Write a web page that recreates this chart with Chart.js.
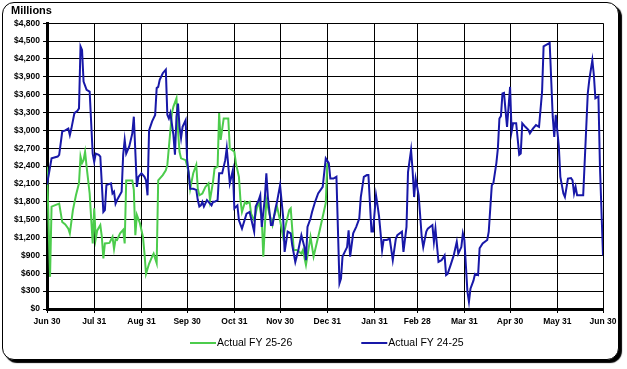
<!DOCTYPE html>
<html>
<head>
<meta charset="utf-8">
<script src="https://cdn.jsdelivr.net/npm/chart.js@4.4.0/dist/chart.umd.min.js"></script>
<style>
html, body { margin: 0; padding: 0; background: #fff; }
#frame { position: absolute; left: 2px; top: 2px; width: 617px; height: 358px; box-sizing: border-box;
  border: 1px solid #000; border-radius: 12px; box-shadow: 3px 3px 1px #000; background: #fff; }
#chart { position: absolute; left: 0; top: 0; }
</style>
</head>
<body>
<div id="frame"></div>
<canvas id="chart" width="627" height="369"></canvas>
<script>
// x axis: days since Jun 30, ticks at month ends
var tickDays = [0, 31, 62, 92, 123, 153, 184, 215, 243, 274, 304, 335, 365];
var tickLabels = ['Jun 30', 'Jul 31', 'Aug 31', 'Sep 30', 'Oct 31', 'Nov 30', 'Dec 31',
                  'Jan 31', 'Feb 28', 'Mar 31', 'Apr 30', 'May 31', 'Jun 30'];

var seriesNames = ['Actual FY 25-26', 'Actual FY 24-25'];

// Actual FY 24-25 ($ millions)
var fy2425Days = [
  0, 3, 7, 8, 10, 12, 14, 15, 16, 18, 20, 21, 22, 23, 24, 26, 28, 30,
  31, 32, 34, 35, 37, 38, 39, 42, 43, 44, 45, 46, 49, 50, 51, 52, 54, 56, 57, 59, 60,
  62, 64, 65, 66, 67, 69, 71, 72, 73, 74, 76, 78, 79, 80, 81, 83, 84, 85, 86, 87, 88, 89, 91,
  92, 93, 94, 96, 98, 99, 100, 101, 102, 103, 105, 106, 108, 109, 110, 112, 113, 115, 117, 118, 120, 122,
  123, 125, 126, 128, 131, 133, 134, 136, 137, 139, 140, 141, 143, 144, 145, 147, 148, 150, 151,
  153, 155, 156, 158, 160, 161, 163, 165, 167, 169, 170, 171, 173, 174, 176, 178, 181, 183,
  185, 186, 188, 190, 192, 193, 194, 197, 198, 199, 201, 203, 205, 206, 208, 210, 211, 213, 214,
  216, 217, 218, 220, 221, 223, 225, 227, 229, 230, 233, 234, 236, 237, 239, 240, 241, 242,
  243, 244, 246, 247, 249, 250, 253, 254, 255, 257, 259, 261, 262, 263, 265, 267, 269, 270, 272, 273,
  274, 276, 277, 278, 280, 281, 283, 284, 286, 289, 290, 292, 293, 295, 296, 297, 298, 299, 300, 301, 302,
  304, 305, 306, 308, 310, 311, 312, 314, 316, 317, 319, 321, 323, 325, 326, 328, 330, 332, 333, 334,
  336, 337, 339, 340, 342, 344, 345, 346, 347, 348, 352, 355, 356, 358, 359, 360, 362, 363, 365
];
var fy2425Values = [
  2090, 2530, 2560, 2590, 2980, 3000, 3030, 2920, 3030, 3290, 3330, 3370, 4410, 4350, 3820, 3680, 3650, 2610,
  2470, 2610, 2590, 2560, 1630, 1660, 2080, 2110, 1940, 1970, 1770, 1830, 1970, 2590, 2840, 2610, 2730, 2950, 3230, 2050, 2220,
  2280, 2220, 2160, 1910, 3000, 3150, 3260, 3710, 3730, 3850, 3960, 4020, 3260, 3200, 3290, 2920, 2590, 3230, 3450, 3060, 2870, 3060, 3170,
  2500, 2280, 2020, 2020, 2000, 1830, 1720, 1740, 1800, 1720, 1830, 1800, 1740, 1800, 1800, 1830, 2280, 2280, 2500, 2700, 2110, 2330,
  1690, 1740, 1490, 1350, 1600, 1630, 1520, 1300, 1720, 1830, 1910, 1380, 1860, 2280, 1880, 1410, 1410, 1690, 1800,
  2080, 1550, 960, 1300, 1270, 1070, 790, 990, 1240, 1040, 820, 1380, 1520, 1630, 1800, 1940, 2050, 2530,
  2450, 2190, 2190, 2220, 430, 510, 880, 1040, 1320, 880, 1270, 1380, 1520, 1880, 2220, 2250, 2250, 1300, 1300,
  1910, 1740, 1550, 990, 1160, 1160, 1180, 820, 1180, 1240, 1300, 960, 1380, 2300, 2670, 2330, 1880, 2190,
  2050, 1910, 1210, 1040, 1300, 1350, 1410, 1130, 1350, 790, 820, 900, 570, 590, 740, 900, 1130, 930, 1040, 1270,
  1160, 290, 120, 340, 480, 590, 570, 1020, 1100, 1160, 1300, 2080, 2110, 2450, 2700, 3200, 3240, 3620, 3630, 3340, 3060,
  3730, 2980, 3120, 3120, 2590, 2610, 3120, 3060, 3010, 2950, 3030, 3090, 3060, 3650, 4410, 4440, 4470, 3230, 2890, 3260,
  2730, 2220, 1940, 1880, 2190, 2200, 2160, 1940, 2050, 1910, 1910, 3620, 3850, 4180, 3930, 3540, 3570, 2390, 900
];

// Actual FY 25-26 ($ millions)
var fy2526Days = [
  0, 2, 3, 5, 8, 10, 12, 14, 15, 17, 19, 21, 22, 23, 24, 25, 26, 28, 30,
  31, 32, 33, 35, 36, 37, 38, 41, 43, 44, 45, 46, 48, 50, 51, 52, 56, 57, 58, 59, 61,
  63, 64, 65, 67, 69, 70, 72, 73, 76, 78, 79, 81, 82, 83, 85, 86, 87, 88, 91,
  93, 94, 96, 98, 99, 100, 102, 104, 106, 107, 109, 110, 112, 113, 114, 116, 119, 120,
  123, 124, 126, 127, 128, 130, 131, 133, 134, 136, 138, 139, 141, 142, 143, 144, 146, 148, 149, 151,
  153, 155, 157, 159, 160, 162, 164, 167, 168, 170, 173, 175, 179, 181, 183, 184
];
var fy2526Values = [
  2390, 540, 1720, 1740, 1770, 1460, 1420, 1350, 1270, 1660, 1910, 2110, 2560, 2450, 2500, 2640, 2390, 1940, 1100,
  1690, 1180, 1320, 1410, 1210, 850, 1100, 1110, 1210, 1010, 1170, 1160, 1270, 1330, 1100, 2160, 2160, 2000, 1240, 1580, 1440,
  1210, 930, 590, 760, 880, 930, 770, 2160, 2250, 2330, 2420, 3000, 3290, 3400, 3540, 3000, 2640, 2530, 2500,
  2300, 2020, 2280, 2420, 2020, 1910, 1940, 2050, 2110, 1830, 2140, 2360, 2390, 3290, 2840, 3200, 3200, 2700,
  2640, 2450, 2220, 1830, 1630, 1800, 1770, 1800, 1600, 1490, 1720, 1800, 1520, 880, 1380, 1830, 1600, 1410, 1550, 1720,
  1490, 1210, 1440, 1660, 1690, 990, 990, 930, 990, 740, 1210, 880, 1320, 1550, 1780, 2450
];

var BLUE = '#1818a8';
var GREEN = '#4ccc4c';
var FONT = '"Liberation Sans", Arial, sans-serif';

function toPoints(days, values) {
  return days.map(function (d, i) { return { x: d, y: values[i] }; });
}

// legend drawn below the axis, green first then blue
var legendOrder = [1, 0];
var bottomLegend = {
  id: 'bottomLegend',
  afterDraw: function (chart) {
    var c = chart.ctx;
    c.save();
    c.font = '10.5px ' + FONT;
    c.textBaseline = 'middle';
    var x = 190, y = 343;
    legendOrder.forEach(function (i) {
      var ds = chart.data.datasets[i];
      c.strokeStyle = ds.borderColor;
      c.lineWidth = 2;
      c.beginPath();
      c.moveTo(x, y);
      c.lineTo(x + 26, y);
      c.stroke();
      c.fillStyle = '#000';
      c.fillText(ds.label, x + 27, y);
      x += 27 + c.measureText(ds.label).width + 69;
    });
    c.restore();
  }
};

var ctx = document.getElementById('chart').getContext('2d');
var chart = new Chart(ctx, {
  type: 'line',
  data: {
    datasets: [
      { label: seriesNames[1], data: toPoints(fy2425Days, fy2425Values), borderColor: BLUE,
        borderWidth: 2, pointRadius: 0, tension: 0, fill: false },
      { label: seriesNames[0], data: toPoints(fy2526Days, fy2526Values), borderColor: GREEN,
        borderWidth: 2, pointRadius: 0, tension: 0, fill: false }
    ]
  },
  options: {
    responsive: false,
    animation: false,
    layout: { padding: { left: 11, right: 24, top: 0, bottom: 40 } },
    plugins: {
      legend: { display: false },
      tooltip: { enabled: false },
      title: {
        display: true, text: 'Millions', align: 'start', color: '#000',
        font: { family: FONT, size: 11, weight: 'bold' },
        padding: { top: 4, bottom: 6 }
      }
    },
    scales: {
      x: {
        type: 'linear', min: 0, max: 365,
        afterBuildTicks: function (s) { s.ticks = tickDays.map(function (v) { return { value: v }; }); },
        afterFit: function (s) { s.height = 20; },
        ticks: {
          autoSkip: false, maxRotation: 0, color: '#000', padding: 4,
          font: { family: FONT, size: 8.5, weight: 'bold' },
          callback: function (v, i) { return tickLabels[i]; }
        },
        grid: { color: '#000', lineWidth: 1, tickLength: 4 },
        border: { color: '#000', width: 3 }
      },
      y: {
        min: 0, max: 4800,
        afterFit: function (s) { s.width = 36; },
        ticks: {
          stepSize: 300, autoSkip: false, color: '#000', padding: 3,
          font: { family: FONT, size: 8.5, weight: 'bold' },
          callback: function (v) { return '$' + v.toLocaleString('en-US'); }
        },
        grid: { color: '#000', lineWidth: 1, tickLength: 4 },
        border: { color: '#000', width: 3 }
      }
    }
  },
  plugins: [bottomLegend]
});
</script>
</body>
</html>
